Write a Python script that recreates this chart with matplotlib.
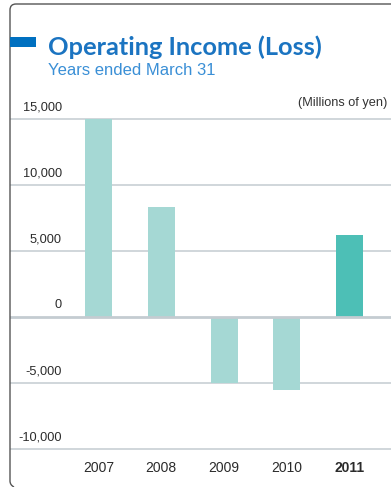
import matplotlib
matplotlib.use("Agg")
import matplotlib.pyplot as plt
from matplotlib.path import Path
from matplotlib.patches import PathPatch, Rectangle
from matplotlib.transforms import Affine2D, blended_transform_factory

# Data (millions of yen)
years = ["2007", "2008", "2009", "2010", "2011"]
operating_income = [15000, 8300, -5000, -5550, 6200]
y_ticks = [15000, 10000, 5000, 0, -5000, -10000]
y_tick_labels = ["15,000", "10,000", "5,000", "0", "-5,000", "-10,000"]

W, H = 391, 487
fig = plt.figure(figsize=(W / 100, H / 100), dpi=100)
fig.patch.set_facecolor("white")

# pixel transform with origin at top-left
px = Affine2D().scale(1 / W, -1 / H).translate(0, 1) + fig.transFigure

# plotting area geometry (pixels)
left_px, right_px = 10, 391
top_px, bot_px = 90, 487
zero_px = 316.7
unit_px = 66.0 / 5000
slot_px = 62.75
first_center_px = 98.5

ymax = (zero_px - top_px) / unit_px
ymin = -(bot_px - zero_px) / unit_px
xmin = (left_px - first_center_px) / slot_px
xmax = (right_px - first_center_px) / slot_px

ax = fig.add_axes([left_px / W, 1 - bot_px / H, (right_px - left_px) / W, (bot_px - top_px) / H])
ax.set_xlim(xmin, xmax)
ax.set_ylim(ymin, ymax)
ax.axis("off")

grid_color = "#c4ccd1"
for v in y_ticks:
    lw = 2.0 if v == 0 else 1.1
    ax.axhline(v, color=grid_color, lw=lw, zorder=1 if v != 0 else 3)

light = "#a5d8d4"
dark = "#4dbfb6"
colors = [light] * (len(years) - 1) + [dark]
ax.bar(range(len(years)), operating_income, width=27 / slot_px, color=colors, zorder=2)

# y tick labels sit just above their gridlines
lab_tr = blended_transform_factory(ax.transAxes, ax.transData)
for v, s in zip(y_ticks, y_tick_labels):
    ax.annotate(s, xy=((62 - left_px) / (right_px - left_px), v), xycoords=lab_tr,
                xytext=(0, 11.5 * 0.72), textcoords="offset points",
                ha="right", va="center", fontsize=9.2, color="#2b2b2b",
                family="Liberation Sans")

# x category labels
xlab_tr = blended_transform_factory(ax.transData, px)
for i, y in enumerate(years):
    bold = i == len(years) - 1
    ax.text(i, 468, y, transform=xlab_tr,
            ha="center", va="center", fontsize=10, color="#2b2b2b",
            fontweight="bold" if bold else "normal", family="Liberation Sans")

# rounded frame on the left and top
r = 6
frame = Path(
    [(391, 4), (10 + r, 4), (10, 4), (10, 4 + r), (10, 481), (10, 485), (14, 487)],
    [Path.MOVETO, Path.LINETO, Path.CURVE3, Path.CURVE3, Path.LINETO, Path.CURVE3, Path.CURVE3],
)
fig.patches.append(PathPatch(frame, transform=px, fill=False, edgecolor="#555555", lw=1.0))

# title block
fig.patches.append(Rectangle((10, 37), 26, 10, transform=px, color="#0070c0", lw=0))
fig.text(48, 55, "Operating Income (Loss)", transform=px, ha="left", va="baseline",
         fontsize=18.3, fontweight="bold", color="#1b74c1", family="Lato")
fig.text(48, 75, "Years ended March 31", transform=px, ha="left", va="baseline",
         fontsize=12, color="#3a8fd6", family="Liberation Sans")
fig.text(387, 106, "(Millions of yen)", transform=px, ha="right", va="baseline",
         fontsize=9.2, color="#333333", family="Liberation Sans")

fig.savefig("out.png", dpi=100, facecolor="white")
